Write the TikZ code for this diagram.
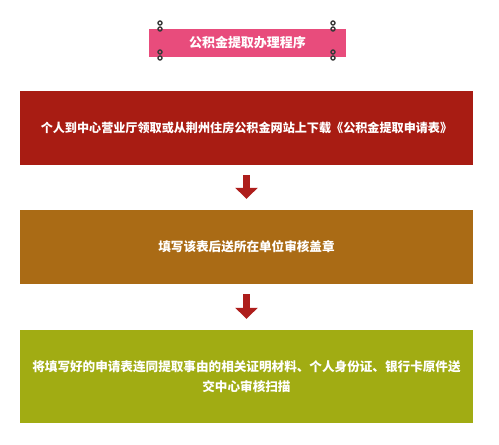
\documentclass[tikz,border=0pt]{standalone}
\usepackage{fontspec}
\setmainfont{Noto Sans CJK SC}
\usetikzlibrary{arrows.meta}
\definecolor{titlepink}{HTML}{E84C7C}
\definecolor{stepred}{HTML}{A81C13}
\definecolor{stepbrown}{HTML}{AA6B15}
\definecolor{stepolive}{HTML}{A1AC13}
\definecolor{arrowred}{HTML}{AE1E1C}
\definecolor{ringgray}{HTML}{3A3A3A}
\begin{document}
\begin{tikzpicture}[x=1pt,y=-1pt,
  stepbox/.style={fill=#1, draw=none, minimum width=453pt, inner sep=0pt,
    text=white, font=\bfseries\fontsize{12.6}{20}\selectfont, align=center},
  titlebox/.style={fill=titlepink, draw=none, minimum width=197pt, minimum height=28pt,
    inner sep=0pt, text=white, font=\bfseries\fontsize{13}{15}\selectfont},
  bigarrow/.style={draw=arrowred, line width=7pt,
    -{Triangle[width=22pt,length=11pt]}, shorten <=10pt, shorten >=11pt},
  ring/.style={draw=ringgray, line width=1.4pt}]
\useasboundingbox (0,0) rectangle (499,445);
\fill[white] (0,0) rectangle (499,445);

\node[titlebox] (title) at (247.5,43) {公积金提取办理程序};
\foreach \rx/\ry in {160/26, 160/55, 333/26, 333/55}{
  \draw[ring] (\rx,\ry-3) circle[radius=2pt];
  \draw[ring] (\rx,\ry+3) circle[radius=2pt];
}

\node[stepbox=stepred, minimum height=74pt, font=\bfseries\fontsize{12.1}{20}\selectfont] (s1) at (246.5,128)
  {个人到中心营业厅领取或从荆州住房公积金网站上下载《公积金提取申请表》};
\node[stepbox=stepbrown, minimum height=74pt] (s2) at (246.5,247)
  {填写该表后送所在单位审核盖章};
\node[stepbox=stepolive, minimum height=93pt] (s3) at (246.5,376.5)
  {将填写好的申请表连同提取事由的相关证明材料、个人身份证、银行卡原件送\\交中心审核扫描};

\draw[bigarrow] (s1.south) -- (s2.north);
\draw[bigarrow] (s2.south) -- (s3.north);
\end{tikzpicture}
\end{document}
